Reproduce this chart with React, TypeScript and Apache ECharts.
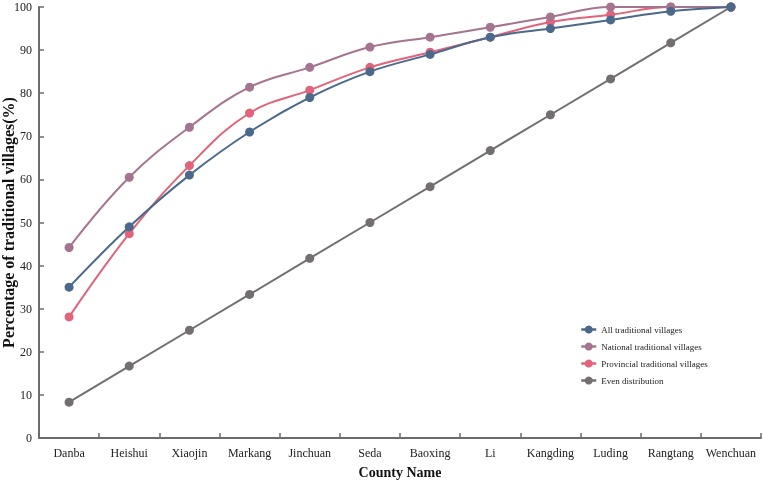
import React, { useEffect, useRef } from "react";
import * as echarts from "echarts";

const counties = ["Danba", "Heishui", "Xiaojin", "Markang", "Jinchuan", "Seda", "Baoxing", "Li", "Kangding", "Luding", "Rangtang", "Wenchuan"];
const allVillages = [35, 49, 61, 71, 79, 85, 89, 93, 95, 97, 99, 100];
const nationalVillages = [44.2, 60.5, 72.1, 81.4, 86.0, 90.7, 93.0, 95.3, 97.7, 100, 100, 100];
const provincialVillages = [28.1, 47.4, 63.2, 75.4, 80.7, 86.0, 89.5, 93.0, 96.5, 98.2, 100, 100];
const evenDistribution = [8.3, 16.7, 25, 33.3, 41.7, 50, 58.3, 66.7, 75, 83.3, 91.7, 100];

const seriesNames = ["All traditional villages", "National traditional villages", "Provincial traditional villages", "Even distribution"];
const seriesColors = ["#4b6a8b", "#a57490", "#e2637a", "#736e6f"];
const seriesData = [allVillages, nationalVillages, provincialVillages, evenDistribution];
const seriesSmooth = [true, true, true, false];

const FONT = "'Liberation Serif', 'Times New Roman', serif";

export default function App() {
  const ref = useRef<HTMLDivElement>(null);
  useEffect(() => {
    if (!ref.current) return;
    const chart = echarts.init(ref.current, null, { renderer: "svg" });
    const axisLine = { show: true, lineStyle: { color: "#6b6b6b", width: 2 } };
    chart.setOption({
      animation: false,
      textStyle: { fontFamily: FONT },
      grid: { left: 39, right: 2, top: 7, bottom: 43, containLabel: false, outerBoundsMode: "none" },
      legend: {
        orient: "vertical",
        left: 580,
        top: 325,
        padding: 0,
        itemWidth: 15,
        itemHeight: 10,
        itemGap: 8,
        itemTextGap: 10,
        itemStyle: { borderWidth: 0 },
        lineStyle: { width: 2.5 },
        textStyle: { fontFamily: FONT, fontSize: 9, color: "#222" },
        data: seriesNames,
      },
      xAxis: {
        type: "category",
        data: counties,
        boundaryGap: true,
        name: "County Name",
        nameLocation: "middle",
        nameGap: 27,
        nameTextStyle: { fontFamily: FONT, fontSize: 14, fontWeight: "bold", color: "#111" },
        axisLine,
        axisTick: { show: true, inside: true, length: 5, lineStyle: { color: "#6b6b6b", width: 1.5 } },
        axisLabel: { fontFamily: FONT, fontSize: 12, color: "#222", margin: 9, interval: 0 },
        splitLine: { show: false },
      },
      yAxis: {
        type: "value",
        min: 0,
        max: 100,
        interval: 10,
        name: "Percentage of traditional villages(%)",
        nameLocation: "middle",
        nameGap: 23,
        nameMoveOverlap: false,
        nameTextStyle: { fontFamily: FONT, fontSize: 16, fontWeight: "bold", color: "#111" },
        axisLine,
        axisTick: { show: true, inside: true, length: 5, lineStyle: { color: "#6b6b6b", width: 1.5 } },
        axisLabel: { fontFamily: FONT, fontSize: 12, color: "#222", margin: 7 },
        splitLine: { show: false },
      },
      series: seriesNames.map((name, i) => ({
        name,
        type: "line",
        data: seriesData[i],
        smooth: seriesSmooth[i] ? 0.4 : false,
        symbol: "circle",
        symbolSize: 9,
        lineStyle: { color: seriesColors[i], width: 2 },
        itemStyle: { color: seriesColors[i] },
        z: 10 - i,
      })),
    });
    return () => chart.dispose();
  }, []);
  return <div ref={ref} style={{ position: "fixed", left: 0, top: 0, width: 763, height: 481 }} />;
}
